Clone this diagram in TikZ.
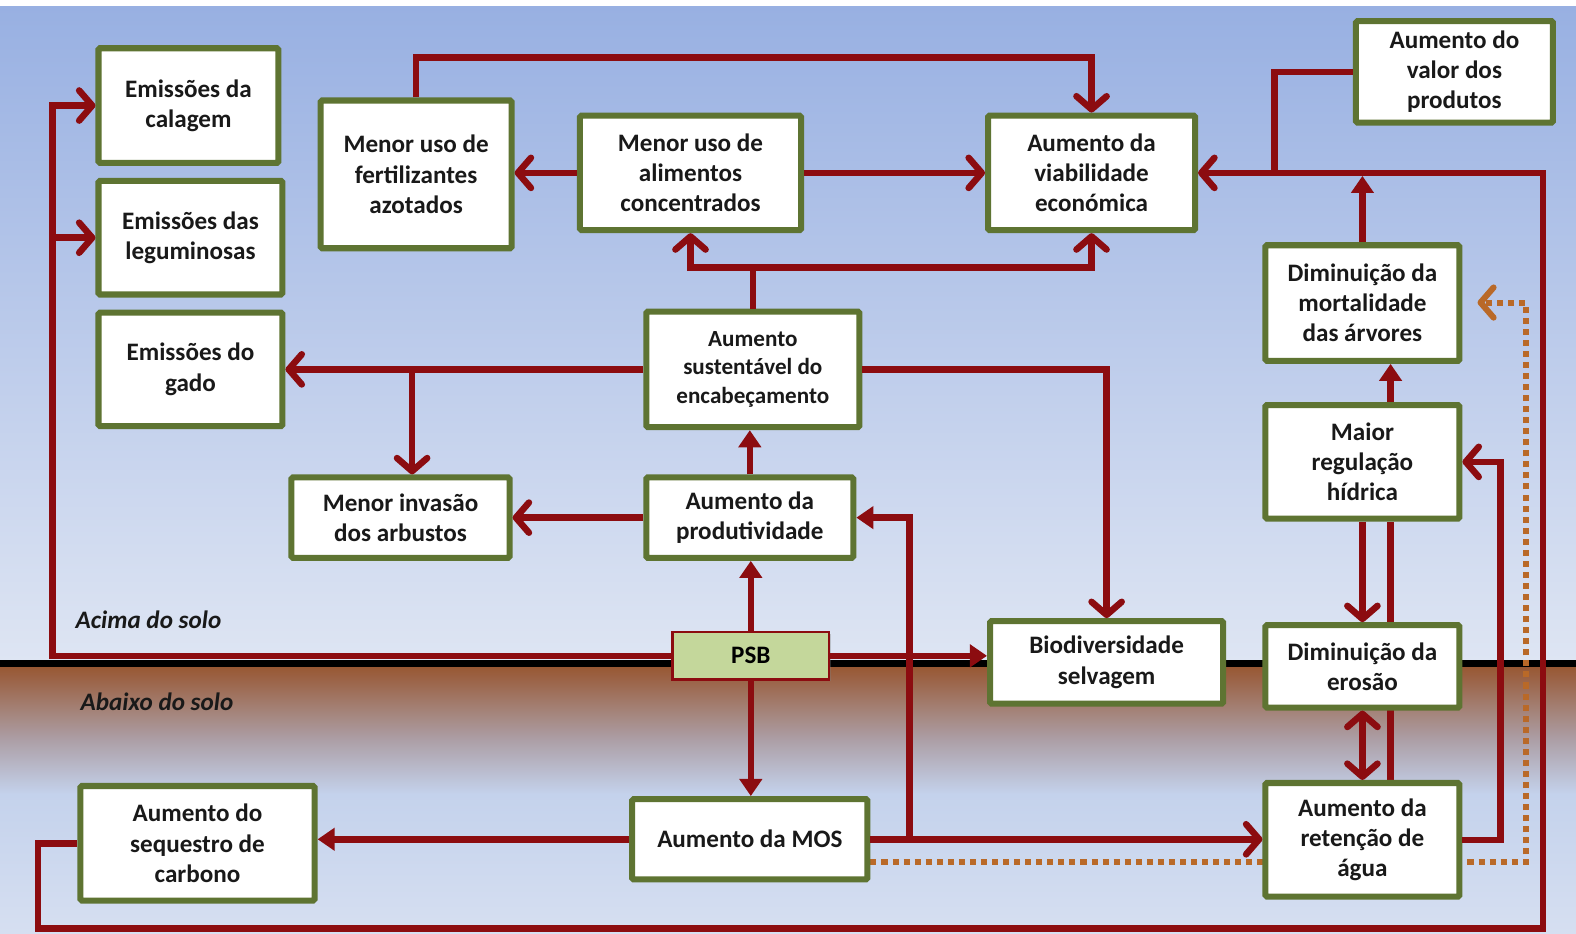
\documentclass[tikz,border=0pt]{standalone}
\usepackage{fontspec}
\setmainfont{Carlito}
\usetikzlibrary{arrows.meta,shadows}

\definecolor{linkred}{RGB}{140,12,16}
\definecolor{boxgreen}{RGB}{94,116,50}
\definecolor{psbgreen}{RGB}{196,215,155}
\definecolor{dotorange}{RGB}{185,105,40}
\definecolor{skytop}{RGB}{152,176,226}
\definecolor{skylow}{RGB}{222,229,243}
\definecolor{soiltop}{RGB}{152,88,52}
\definecolor{soilmid}{RGB}{172,158,165}
\definecolor{deeplow}{RGB}{196,210,236}
\definecolor{deepend}{RGB}{214,223,241}

\pgfdeclarelayer{back}
\pgfdeclarelayer{mid}
\pgfsetlayers{back,mid,main}

\tikzset{
  box/.style={draw=boxgreen, line width=6pt, fill=white, rounded corners=1.5pt,
    align=center, inner sep=2pt, text=black!90, font=\fontsize{25}{30}\selectfont\bfseries},
  psbbox/.style={draw=linkred, line width=2.5pt, fill=psbgreen, inner sep=2pt,
    font=\fontsize{25}{30}\selectfont\bfseries,
    drop shadow={opacity=0.35, shadow xshift=2pt, shadow yshift=-2pt}},
  lbl/.style={anchor=west, inner sep=0pt, text=black!90, font=\fontsize{25}{30}\selectfont\bfseries\itshape},
  link/.style={draw=linkred, line width=6.5pt},
  chev/.style={link, -{Straight Barb[length=13pt,width=30pt,round]}},
  chevboth/.style={link, {Straight Barb[length=13pt,width=30pt,round]}-{Straight Barb[length=13pt,width=30pt,round]}},
  tri/.style={link, -{Triangle[length=17pt,width=22pt]}},
  dotlink/.style={draw=dotorange, line width=6pt, dash pattern=on 6pt off 5pt,
    -{Straight Barb[length=13pt,width=30pt,round]}},
}

\begin{document}
\begin{tikzpicture}[x=1pt,y=-1pt]
  \useasboundingbox (0,0) rectangle (1568,929);
  % sky, ground line and soil
  \begin{pgfonlayer}{back}
    \fill[white] (0,0) rectangle (1568,929);
    \shade[top color=skytop, bottom color=skylow] (0,6) rectangle (1568,658);
    \fill[black] (0,657) rectangle (1568,664);
    \shade[top color=soiltop, bottom color=soilmid] (0,664) rectangle (1568,735);
    \shade[top color=soilmid, bottom color=deeplow] (0,735) rectangle (1568,790);
    \shade[top color=deeplow, bottom color=deepend] (0,790) rectangle (1568,929);
  \end{pgfonlayer}

  \node[lbl] (acima) at (75,617) {Acima do solo};
  \node[lbl] (abaixo) at (80,698) {Abaixo do solo};

  % boxes
  \node[box, minimum width=179, minimum height=114] (calag) at (187.5,105) {Emissões da\\calagem};
  \node[box, minimum width=183, minimum height=113] (legum) at (189.5,236.5) {Emissões das\\leguminosas};
  \node[box, minimum width=183, minimum height=113] (gado) at (189.5,367.5) {Emissões do\\gado};
  \node[box, minimum width=190, minimum height=147] (fert) at (414,173.5) {Menor uso de\\fertilizantes\\azotados};
  \node[box, minimum width=220, minimum height=114] (alim) at (687,172) {Menor uso de\\alimentos\\concentrados};
  \node[box, minimum width=206, minimum height=114] (viab) at (1086,172) {Aumento da\\viabilidade\\económica};
  \node[box, minimum width=196, minimum height=101] (valor) at (1447,71.5) {Aumento do\\valor dos\\produtos};
  \node[box, minimum width=193, minimum height=115] (mort) at (1355.5,301.5) {Diminuição da\\mortalidade\\das árvores};
  \node[box, minimum width=193, minimum height=113] (regul) at (1355.5,459.5) {Maior\\regulação\\hídrica};
  \node[box, minimum width=212, minimum height=115, font=\fontsize{23}{28}\selectfont\bfseries] (encab) at (749,367.5) {Aumento\\sustentável do\\encabeçamento};
  \node[box, minimum width=217, minimum height=80] (invas) at (398.5,515) {Menor invasão\\dos arbustos};
  \node[box, minimum width=206, minimum height=80] (produt) at (746,515) {Aumento da\\produtividade};
  \node[psbbox, minimum width=156, minimum height=47] (psb) at (747,652.5) {PSB};
  \node[box, minimum width=232, minimum height=82] (biodiv) at (1101,659) {Biodiversidade\\selvagem};
  \node[box, minimum width=193, minimum height=82] (erosao) at (1355.5,663) {Diminuição da\\erosão};
  \node[box, minimum width=193, minimum height=113] (reten) at (1355.5,835.5) {Aumento da\\retenção de\\água};
  \node[box, minimum width=234, minimum height=80] (mos) at (746,835) {Aumento da MOS};
  \node[box, minimum width=233, minimum height=114] (seques) at (196.5,839) {Aumento do\\sequestro de\\carbono};

  % turning points
  \coordinate (ty) at (0,57);
  \coordinate (lft) at (52,652.5);
  \coordinate (gj) at (410,367.5);
  \coordinate (mx) at (905,0);
  \coordinate (vx) at (1268,0);
  \coordinate (rx) at (1493,0);
  \coordinate (dx) at (1518,0);
  \coordinate (dtip) at (1470,301);
  \coordinate (bl) at (38,924);
  \coordinate (br) at (1535,924);

  % links behind the boxes
  \begin{pgfonlayer}{mid}
    \draw[link] ([xshift=28pt]reten.north) -- ([xshift=28pt]regul.south);
    \draw[dotlink] ([yshift=-23pt]mos.east) -| (dx |- dtip) -- (dtip);
  \end{pgfonlayer}

  % links
  \draw[chev] (fert.north) -- (fert.north |- ty) -| (viab.north);
  \draw[chev] (alim.west) -- (alim.west -| fert.east);
  \draw[chev] (alim.east) -- (alim.east -| viab.west);
  \draw[link] (encab.north) -- ++(0,-41) coordinate (ej);
  \draw[chev] (ej) -| (alim.south);
  \draw[chev] (ej) -| (viab.south);
  \draw[chev] (encab.west) -- (encab.west -| gado.east);
  \draw[chev] (gj) -- (gj |- invas.north);
  \draw[chev] (encab.east) -| (biodiv.north);
  \draw[tri] (produt.north) -- (produt.north |- encab.south);
  \draw[chev] (produt.west) -- (produt.west -| invas.east);
  \draw[tri] (psb.north) -- (psb.north |- produt.south);
  \draw[tri] (psb.south) -- (psb.south |- mos.north);
  \draw[chev] (psb.west) -- (lft) |- (calag.west);
  \draw[chev] (lft |- legum.west) -- (legum.west);
  \draw[tri] (psb.east) -- (psb.east -| biodiv.west);
  \draw[tri] (mos.east) -| (mx |- produt.east) -- (produt.east);
  \draw[chev] (mos.east) -- (mos.east -| reten.west);
  \draw[tri] (mos.west) -- (mos.west -| seques.east);
  \draw[chev] (seques.west) -| (bl) -- (br) |- (viab.east);
  \draw[link] (valor.west) -| (vx |- viab.east);
  \draw[tri, shorten >=3pt] (mort.north) -- (mort.north |- viab.east);
  \draw[tri] ([xshift=28pt]regul.north) -- ([xshift=28pt]mort.south);
  \draw[chev] (regul.south) -- (erosao.north);
  \draw[chevboth] (erosao.south) -- (reten.north);
  \draw[chev] (reten.east) -| (rx |- regul.east) -- (regul.east);
\end{tikzpicture}
\end{document}
